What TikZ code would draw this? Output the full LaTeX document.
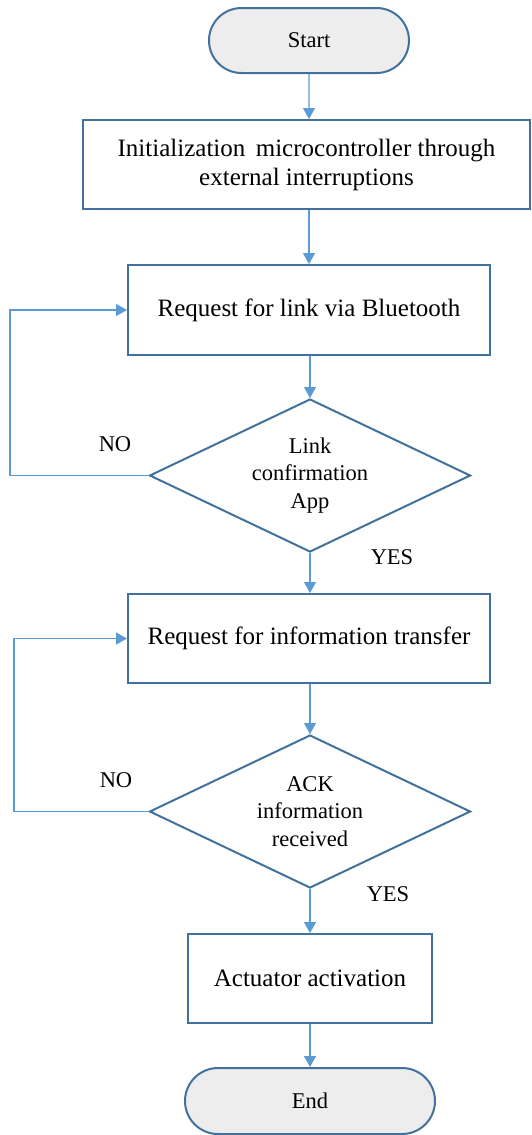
\documentclass[tikz,border=0pt]{standalone}
\usepackage{fontspec}
\setmainfont{Liberation Serif}
\usetikzlibrary{shapes.geometric,shapes.misc,arrows.meta}
\definecolor{edge}{HTML}{41719C}
\definecolor{flow}{HTML}{5B9BD5}
\definecolor{term}{HTML}{EDEDED}
\begin{document}
\begin{tikzpicture}[x=1pt,y=-1pt,
  big/.style={font=\fontsize{25}{29}\selectfont},
  small/.style={font=\fontsize{22.5}{27.5}\selectfont},
  procbox/.style={draw=edge,line width=2pt,rectangle,big,align=center,inner sep=0pt},
  termbox/.style={draw=edge,line width=2pt,fill=term,rounded rectangle,small,inner sep=0pt},
  decide/.style={draw=edge,line width=2pt,diamond,aspect=2.1,small,align=center,inner sep=0pt},
  arr/.style={draw=flow,line width=1.3pt,-{Triangle[length=11pt,width=12pt]}},
  lbl/.style={small,inner sep=0pt}]
\useasboundingbox (0,0) rectangle (531,1135);

% flow steps
\node[termbox,minimum width=200pt,minimum height=65pt] (start) at (309,40.5) {Start};
\node[procbox,minimum width=447pt,minimum height=89pt] (init) at (306.5,164.5)
  {Initialization\, microcontroller through\\external interruptions};
\node[procbox,minimum width=362pt,minimum height=90pt] (req1) at (309,310)
  {Request for link via Bluetooth};
\node[decide,minimum width=321pt,minimum height=153pt] (d1) at (310,475.5)
  {Link\\confirmation\\App};
\node[procbox,minimum width=362pt,minimum height=89pt] (req2) at (309,638.5)
  {Request for information transfer};
\node[decide,minimum width=321pt,minimum height=153pt] (d2) at (310,811.5)
  {ACK\\information\\received};
\node[procbox,minimum width=244pt,minimum height=89pt] (act) at (310,978.5)
  {\raisebox{-5pt}{Actuator activation}};
\node[termbox,minimum width=250pt,minimum height=66pt] (end) at (310,1101) {End};

% branch labels
\node[lbl] (no1) at (115,444) {NO};
\node[lbl] (yes1) at (392,557) {YES};
\node[lbl] (no2) at (116,780) {NO};
\node[lbl] (yes2) at (388,894) {YES};

% main connectors
\draw[arr] (start) -- (start |- init.north);
\draw[arr] (req1 |- init.south) -- (req1.north);
\draw[arr] (req1.south -| d1.north) -- (d1.north);
\draw[arr] (d1.south) -- (d1.south |- req2.north);
\draw[arr] (req2.south -| d2.north) -- (d2.north);
\draw[arr] (d2.south) -- (d2.south |- act.north);
\draw[arr] (act.south) -- (act.south |- end.north);

% retry loops
\coordinate (back1) at (10,475.5);
\coordinate (back2) at (14,811.5);
\draw[arr] (d1.west) -- (back1) |- (req1.west);
\draw[arr] (d2.west) -- (back2) |- (req2.west);
\end{tikzpicture}
\end{document}
